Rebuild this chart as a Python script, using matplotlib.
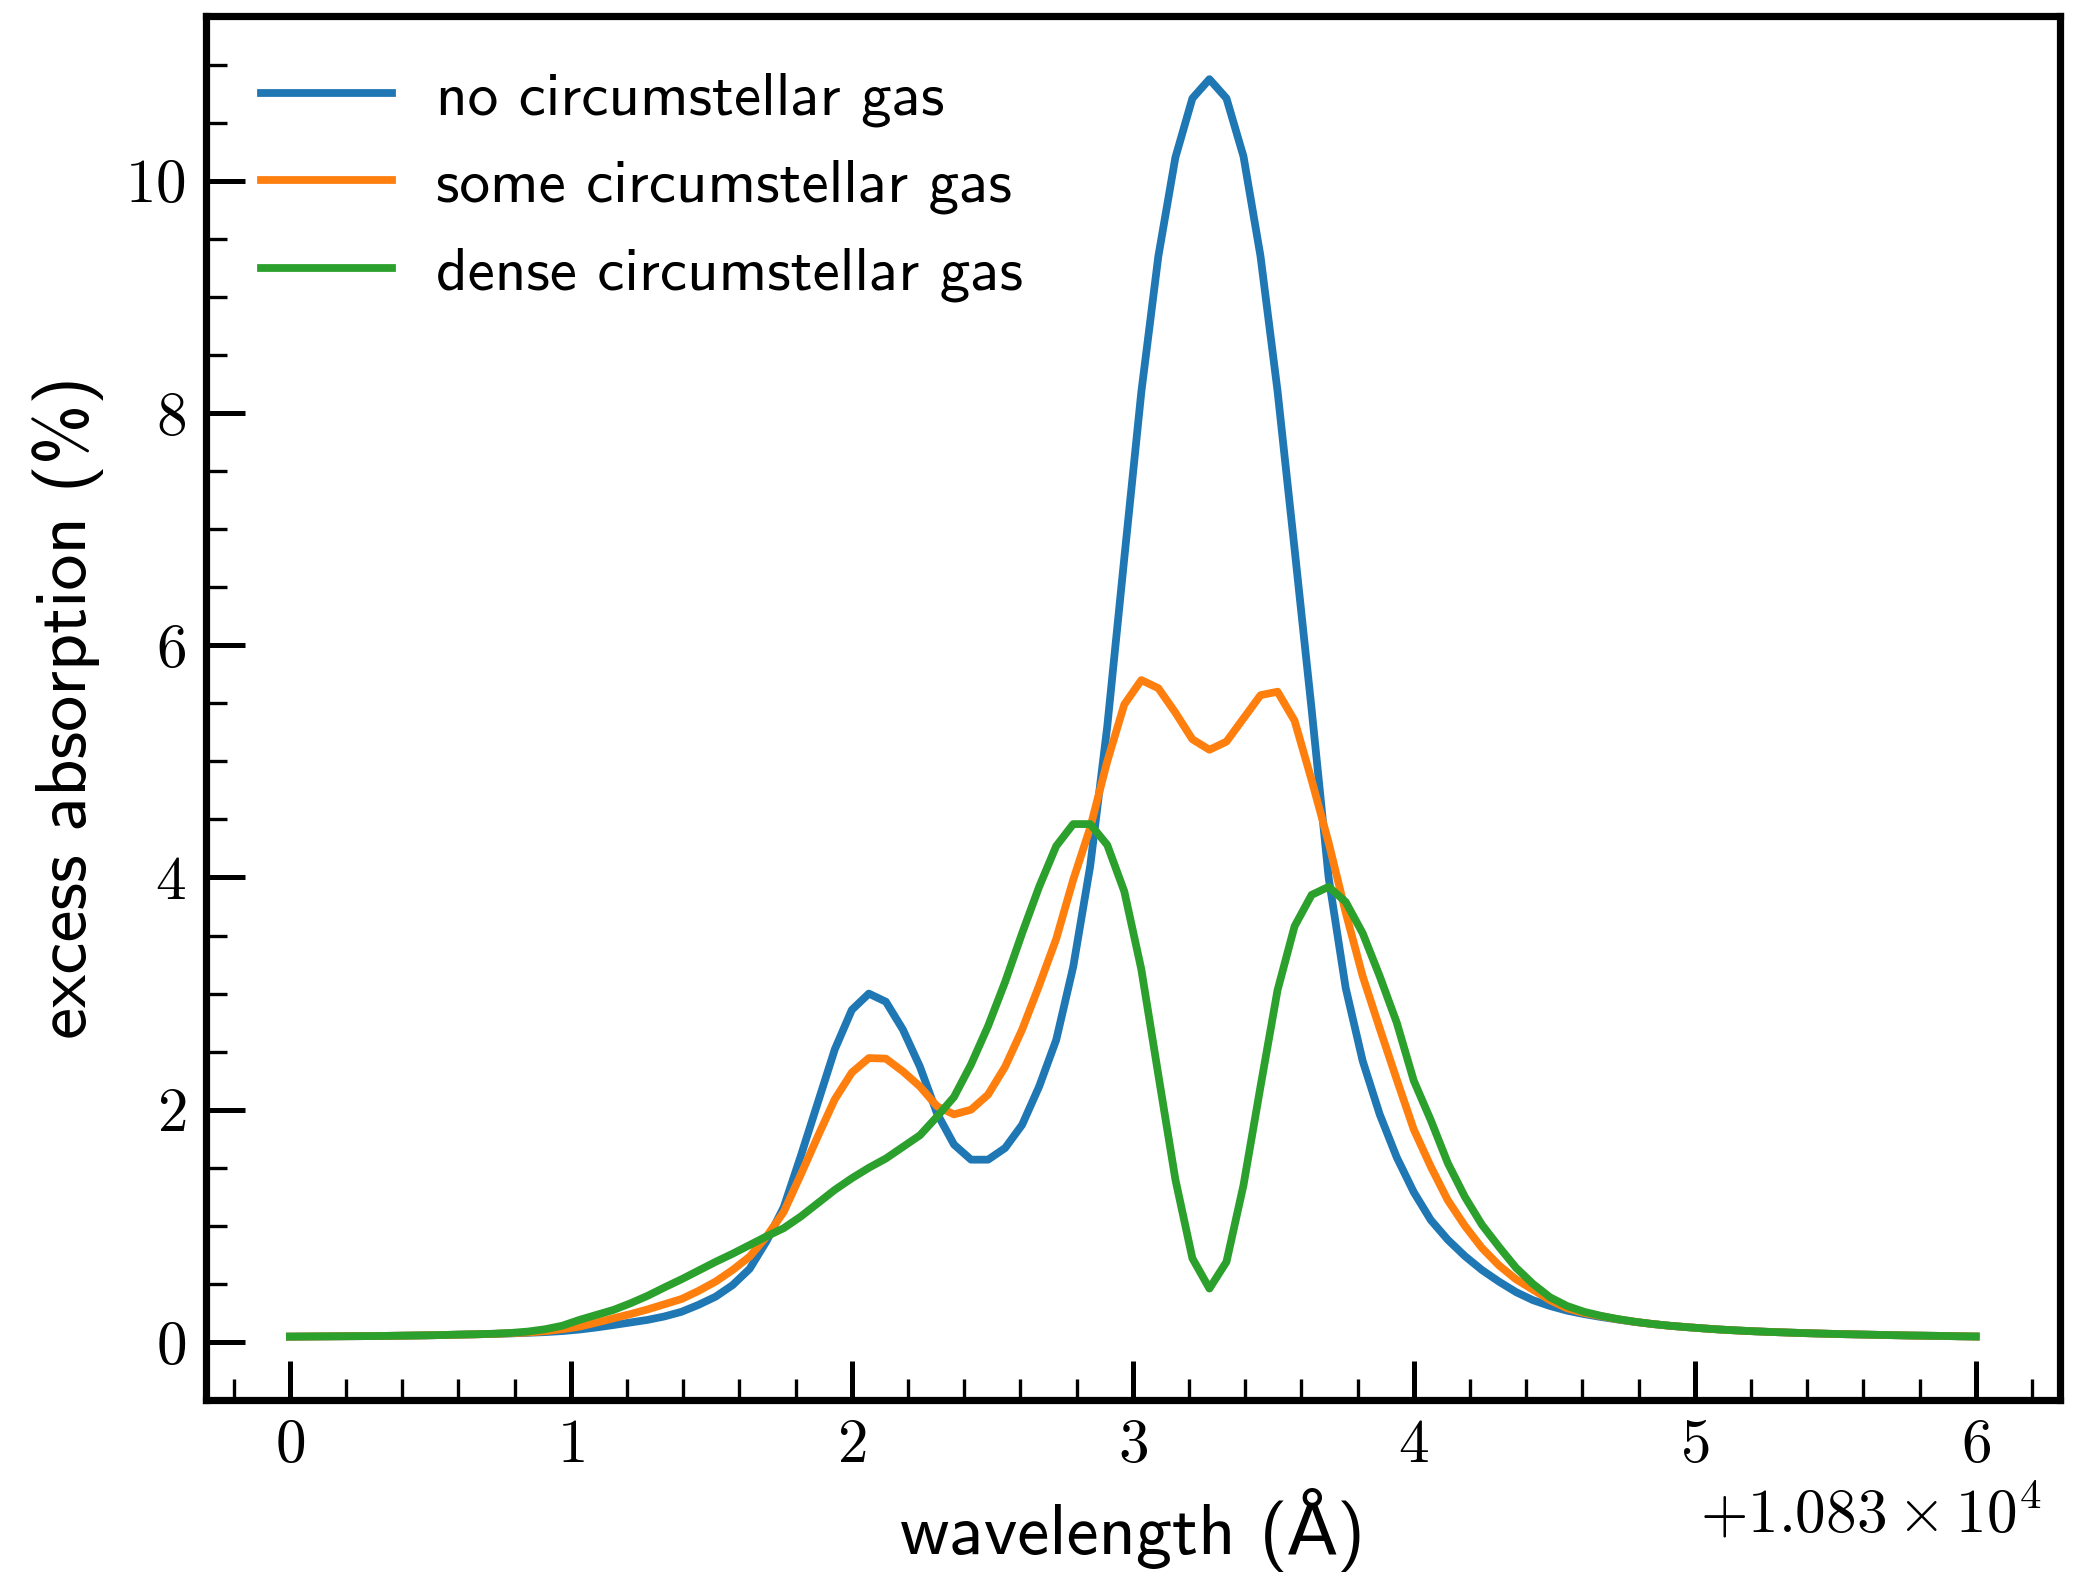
import numpy as np
import matplotlib
matplotlib.use("Agg")
import matplotlib.pyplot as plt
from matplotlib.ticker import AutoMinorLocator, ScalarFormatter

# fonts: computer modern look without usetex
plt.rcParams['mathtext.fontset'] = 'cm'
plt.rcParams['axes.formatter.use_mathtext'] = True
plt.rcParams['font.family'] = ['cmss10', 'DejaVu Sans']

# wavelength sampling grid (Angstrom), 100 samples from 10830 to 10836
wavelength = np.linspace(10830, 10836, 100)

# excess absorption (%)
no_gas = [
    0.046, 0.047, 0.048, 0.049, 0.050, 0.051, 0.053, 0.055, 0.057, 0.060,
    0.063, 0.066, 0.070, 0.074, 0.079, 0.085, 0.094, 0.107, 0.125, 0.146,
    0.168, 0.190, 0.220, 0.260, 0.320, 0.390, 0.490, 0.630, 0.870, 1.160,
    1.600, 2.060, 2.520, 2.860, 3.000, 2.930, 2.690, 2.370, 1.970, 1.700,
    1.570, 1.570, 1.670, 1.870, 2.200, 2.600, 3.230, 4.100, 5.300, 6.750,
    8.180, 9.350, 10.20, 10.71, 10.875, 10.71, 10.21, 9.350, 8.190, 6.830,
    5.450, 4.000, 3.050, 2.420, 1.960, 1.590, 1.290, 1.050, 0.880, 0.740,
    0.620, 0.520, 0.430, 0.360, 0.310, 0.270, 0.240, 0.215, 0.193, 0.172,
    0.155, 0.140, 0.128, 0.117, 0.107, 0.099, 0.092, 0.086, 0.081, 0.076,
    0.072, 0.068, 0.065, 0.062, 0.059, 0.056, 0.054, 0.052, 0.049, 0.047,
]
some_gas = [
    0.046, 0.047, 0.048, 0.049, 0.050, 0.051, 0.053, 0.055, 0.057, 0.060,
    0.063, 0.066, 0.070, 0.075, 0.082, 0.093, 0.110, 0.132, 0.167, 0.204,
    0.240, 0.280, 0.325, 0.370, 0.440, 0.520, 0.620, 0.735, 0.910, 1.120,
    1.440, 1.770, 2.090, 2.320, 2.445, 2.440, 2.330, 2.200, 2.030, 1.960,
    2.000, 2.130, 2.370, 2.690, 3.070, 3.470, 3.980, 4.430, 5.000, 5.490,
    5.700, 5.630, 5.420, 5.190, 5.100, 5.170, 5.370, 5.570, 5.600, 5.350,
    4.840, 4.300, 3.700, 3.150, 2.700, 2.260, 1.830, 1.510, 1.220, 1.000,
    0.810, 0.660, 0.540, 0.450, 0.360, 0.290, 0.250, 0.222, 0.195, 0.173,
    0.155, 0.140, 0.128, 0.117, 0.107, 0.099, 0.092, 0.086, 0.081, 0.076,
    0.072, 0.068, 0.065, 0.062, 0.059, 0.056, 0.054, 0.052, 0.049, 0.047,
]
dense_gas = [
    0.046, 0.047, 0.048, 0.049, 0.050, 0.051, 0.053, 0.055, 0.057, 0.060,
    0.064, 0.067, 0.071, 0.078, 0.090, 0.110, 0.140, 0.190, 0.233, 0.276,
    0.333, 0.397, 0.470, 0.540, 0.615, 0.690, 0.760, 0.835, 0.910, 0.980,
    1.080, 1.195, 1.310, 1.410, 1.500, 1.580, 1.680, 1.780, 1.940, 2.110,
    2.390, 2.720, 3.100, 3.520, 3.920, 4.270, 4.460, 4.460, 4.280, 3.880,
    3.210, 2.300, 1.400, 0.720, 0.460, 0.690, 1.350, 2.200, 3.030, 3.580,
    3.850, 3.920, 3.790, 3.520, 3.150, 2.750, 2.250, 1.910, 1.540, 1.250,
    1.010, 0.820, 0.640, 0.500, 0.385, 0.310, 0.260, 0.225, 0.197, 0.174,
    0.155, 0.140, 0.128, 0.117, 0.107, 0.099, 0.092, 0.086, 0.081, 0.076,
    0.072, 0.068, 0.065, 0.062, 0.059, 0.056, 0.054, 0.052, 0.049, 0.047,
]
labels = ["no circumstellar gas", "some circumstellar gas", "dense circumstellar gas"]


class CMFormatter(ScalarFormatter):
    # offset text in computer modern roman, with a real times sign
    def get_offset(self):
        return super().get_offset().replace(r'\mathdefault', r'\mathrm')


fig = plt.figure(figsize=(10.38, 7.89), dpi=200)
ax = fig.add_axes([205.6 / 2076, 1 - 1399.5 / 1578, (2060 - 205.6) / 2076, (1399.5 - 16.3) / 1578])

for ys, lab in zip([no_gas, some_gas, dense_gas], labels):
    ax.plot(wavelength, ys, lw=2.8, label=lab)

ax.xaxis.set_major_formatter(CMFormatter(useMathText=True))

ax.set_xlabel(r"wavelength (Å)", fontsize=26, labelpad=5)
ax.set_ylabel(r"excess absorption (%)", fontsize=26, labelpad=7.6)

for sp in ax.spines.values():
    sp.set_linewidth(2.6)

ax.xaxis.set_minor_locator(AutoMinorLocator())
ax.yaxis.set_minor_locator(AutoMinorLocator())
ax.tick_params(which='both', direction='in', top=False, right=False, labelsize=22)
ax.tick_params(which='major', length=14, width=1.8)
ax.tick_params(which='minor', length=7.7, width=1.2)
ax.tick_params(axis='x', which='major', pad=7)
ax.tick_params(axis='y', which='major', pad=7)
for t in ax.get_xticklabels() + ax.get_yticklabels():
    t.set_fontfamily('cmr10')
off = ax.xaxis.get_offset_text()
off.set_fontsize(22)
off.set_x(0.99)

ax.legend(loc='upper left', frameon=False, fontsize=22, handlelength=2.15,
          handletextpad=0.72, labelspacing=0.53)

fig.savefig("out.png", dpi=200)
